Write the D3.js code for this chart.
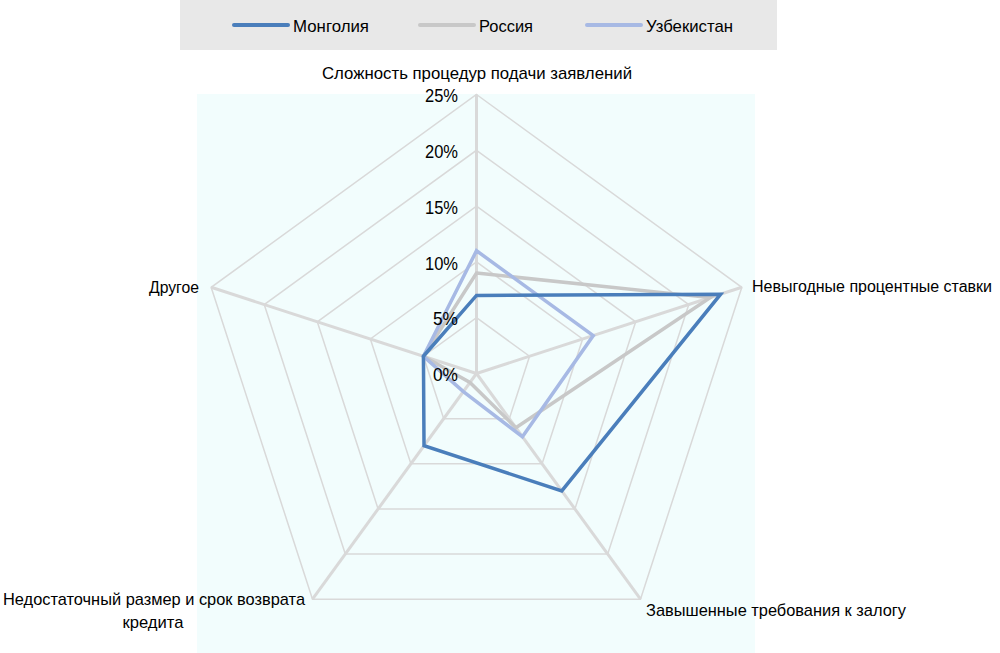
<!DOCTYPE html>
<html><head><meta charset="utf-8">
<script src="https://cdn.jsdelivr.net/npm/d3@7"></script>
<style>body{margin:0;background:#fff}svg{display:block}text{font-family:"Liberation Sans",Arial,sans-serif;fill:#000}</style>
</head><body><svg id="c" width="1000" height="653"></svg>
<script>
const categories = ["Сложность процедур подачи заявлений","Невыгодные процентные ставки","Завышенные требования к залогу","Недостаточный размер и срок возврата кредита","Другое"];
const seriesNames = ["Монголия","Россия","Узбекистан"];
const mongolia = [7, 23, 13, 8, 5];
const russia = [9, 22, 6, 1, 5];
const uzbekistan = [11, 11, 7, 2, 5];
const tickValues = [0, 5, 10, 15, 20, 25];
const tickLabels = ["0%","5%","10%","15%","20%","25%"];
const colors = ["#4a7ebb","#c8c8c8","#a7b9e4"];

const svg = d3.select("#c");
const cx = 476.5, cy = 373.5, R = 279;
const r = d3.scaleLinear().domain([0,25]).range([0,R]);
const ang = d3.scaleLinear().domain([0,categories.length]).range([0,2*Math.PI]);
const pt = (i,v)=>[cx + r(v)*Math.sin(ang(i)), cy - r(v)*Math.cos(ang(i))];

function fit(sel, w){ sel.attr("textLength", w).attr("lengthAdjust","spacingAndGlyphs"); return sel; }

// plot background
svg.append("rect").attr("x",197).attr("y",94).attr("width",558).attr("height",559).attr("fill","#f2fdfd");

// legend
svg.append("rect").attr("x",180).attr("y",0).attr("width",597).attr("height",50).attr("fill","#e8e8e8");
const legX = [234,420,587];
const legW = [76,54,87];
seriesNames.forEach((n,i)=>{
  svg.append("line").attr("x1",legX[i]).attr("x2",legX[i]+54).attr("y1",25).attr("y2",25)
    .attr("stroke",colors[i]).attr("stroke-width",4).attr("stroke-linecap","round");
  fit(svg.append("text").attr("x",legX[i]+59).attr("y",26).attr("dy","0.35em").attr("font-size",17).text(n), legW[i]);
});

// grid rings
tickValues.slice(1).forEach(t=>{
  const pts = categories.map((c,i)=>pt(i,t));
  svg.append("polygon").attr("points",pts.map(p=>p.join(",")).join(" "))
    .attr("fill","none").attr("stroke","#d9d9d9").attr("stroke-width",1.5);
});
// spokes
categories.forEach((c,i)=>{
  const [x,y] = pt(i,25);
  svg.append("line").attr("x1",cx).attr("y1",cy).attr("x2",x).attr("y2",y)
    .attr("stroke","#d9d9d9").attr("stroke-width",3);
});

// series
const line = d3.line().curve(d3.curveLinearClosed);
const order = [1,2,0];
const data = [mongolia, russia, uzbekistan];
order.forEach(k=>{
  svg.append("path").attr("d", line(data[k].map((v,i)=>pt(i,v))))
    .attr("fill","none").attr("stroke",colors[k]).attr("stroke-width",3.5).attr("stroke-linejoin","miter");
});

// tick labels
tickValues.forEach((t,j)=>{
  const w = tickLabels[j].length===2 ? 25 : 33;
  fit(svg.append("text").attr("x",458).attr("y",cy - r(t)+1).attr("dy","0.35em")
    .attr("text-anchor","end").attr("font-size",19).text(tickLabels[j]), w);
});

// category labels
const fs = 17;
fit(svg.append("text").attr("x",477).attr("y",73).attr("dy","0.35em").attr("text-anchor","middle").attr("font-size",fs).text(categories[0]), 310);
fit(svg.append("text").attr("x",752).attr("y",286).attr("dy","0.35em").attr("text-anchor","start").attr("font-size",16).text(categories[1]), 240);
fit(svg.append("text").attr("x",646).attr("y",610).attr("dy","0.35em").attr("text-anchor","start").attr("font-size",fs).text(categories[2]), 260);
const bl = svg.append("text").attr("text-anchor","middle").attr("font-size",fs);
fit(bl.append("tspan").attr("x",154).attr("y",599).attr("dy","0.35em").text("Недостаточный размер и срок возврата"), 302);
fit(bl.append("tspan").attr("x",153).attr("y",622).attr("dy","0.35em").text("кредита"), 61);
fit(svg.append("text").attr("x",199).attr("y",287).attr("dy","0.35em").attr("text-anchor","end").attr("font-size",fs).text(categories[4]), 50);
</script></body></html>
